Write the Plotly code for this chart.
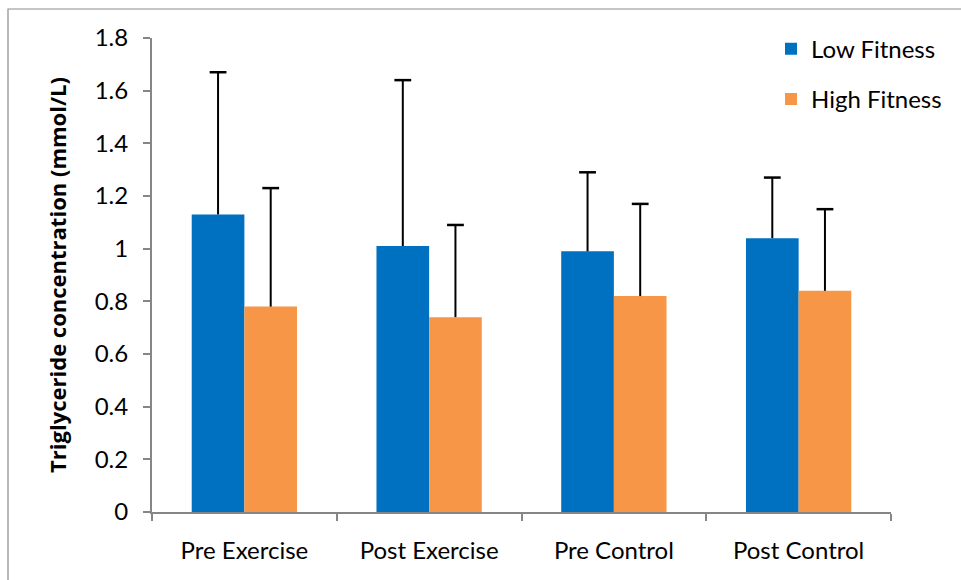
import plotly.graph_objects as go

categories = ["Pre Exercise", "Post Exercise", "Pre Control", "Post Control"]
low_fitness = [1.13, 1.01, 0.99, 1.04]
low_fitness_err = [0.54, 0.63, 0.30, 0.23]
high_fitness = [0.78, 0.74, 0.82, 0.84]
high_fitness_err = [0.45, 0.35, 0.35, 0.31]
y_ticks = [0, 0.2, 0.4, 0.6, 0.8, 1, 1.2, 1.4, 1.6, 1.8]
y_tick_text = ["0", "0.2", "0.4", "0.6", "0.8", "1", "1.2", "1.4", "1.6", "1.8"]

FONT = "Lato, Carlito, Calibri, 'Open Sans', sans-serif"
W, H = 961, 580
L, R, T, B = 152, 70, 38, 68
GAP = 0.43

fig = go.Figure()
series = [
    ("Low Fitness", low_fitness, low_fitness_err, "#0070C0"),
    ("High Fitness", high_fitness, high_fitness_err, "#F79646"),
]
for name, vals, errs, color in series:
    # bar with an upward-only whisker (no caps; the cap is drawn as a marker)
    fig.add_trace(go.Bar(
        name=name, x=categories, y=vals,
        marker=dict(color=color, line=dict(width=0)),
        error_y=dict(type="data", array=errs, arrayminus=[0] * len(errs),
                     symmetric=False, color="black", thickness=2, width=0),
        legendgroup=name,
    ))
for name, vals, errs, color in series:
    tops = [v + e for v, e in zip(vals, errs)]
    fig.add_trace(go.Scatter(
        x=categories, y=tops, mode="markers", showlegend=False,
        marker=dict(symbol="line-ew", size=12, color="black",
                    line=dict(color="black", width=2.5)),
        hoverinfo="skip", legendgroup=name,
    ))

pw = W - L - R
ph = H - T - B
# outer chart frame
fig.add_shape(type="rect", xref="paper", yref="paper",
              x0=(8 - L) / pw, x1=(W + 20 - L) / pw,
              y0=(H - B - (H + 20)) / ph, y1=(H - B - 9) / ph,
              line=dict(color="#8C8C8C", width=1.2), layer="below")

fig.update_layout(
    width=W, height=H,
    margin=dict(l=L, r=R, t=T, b=B, pad=0),
    paper_bgcolor="white", plot_bgcolor="white",
    barmode="group", bargap=GAP, bargroupgap=0,
    scattermode="group", scattergap=GAP,
    font=dict(family=FONT, color="black", size=24),
    legend=dict(x=(771 - L) / pw, y=1.024, xanchor="left", yanchor="top",
                font=dict(size=24, family=FONT), traceorder="grouped",
                tracegroupgap=16, bgcolor="rgba(0,0,0,0)", itemwidth=30),
    showlegend=True,
)
fig.update_xaxes(
    showline=True, linecolor="#868686", linewidth=2,
    ticks="outside", tickson="boundaries", ticklen=7, tickcolor="#868686", tickwidth=2,
    tickfont=dict(size=24, family=FONT), ticklabelstandoff=16,
    showgrid=False, zeroline=False,
)
fig.update_yaxes(
    range=[0, 1.8], tickvals=y_ticks, ticktext=y_tick_text,
    showline=True, linecolor="#868686", linewidth=2,
    ticks="outside", ticklen=7, tickcolor="#868686", tickwidth=2,
    tickfont=dict(size=24, family=FONT), ticklabelstandoff=10,
    showgrid=False, zeroline=False,
    title=dict(text="Triglyceride concentration (mmol/L)",
               font=dict(size=22, family="'Open Sans', sans-serif", weight=700),
               standoff=22),
)

fig.write_html("out.html")
